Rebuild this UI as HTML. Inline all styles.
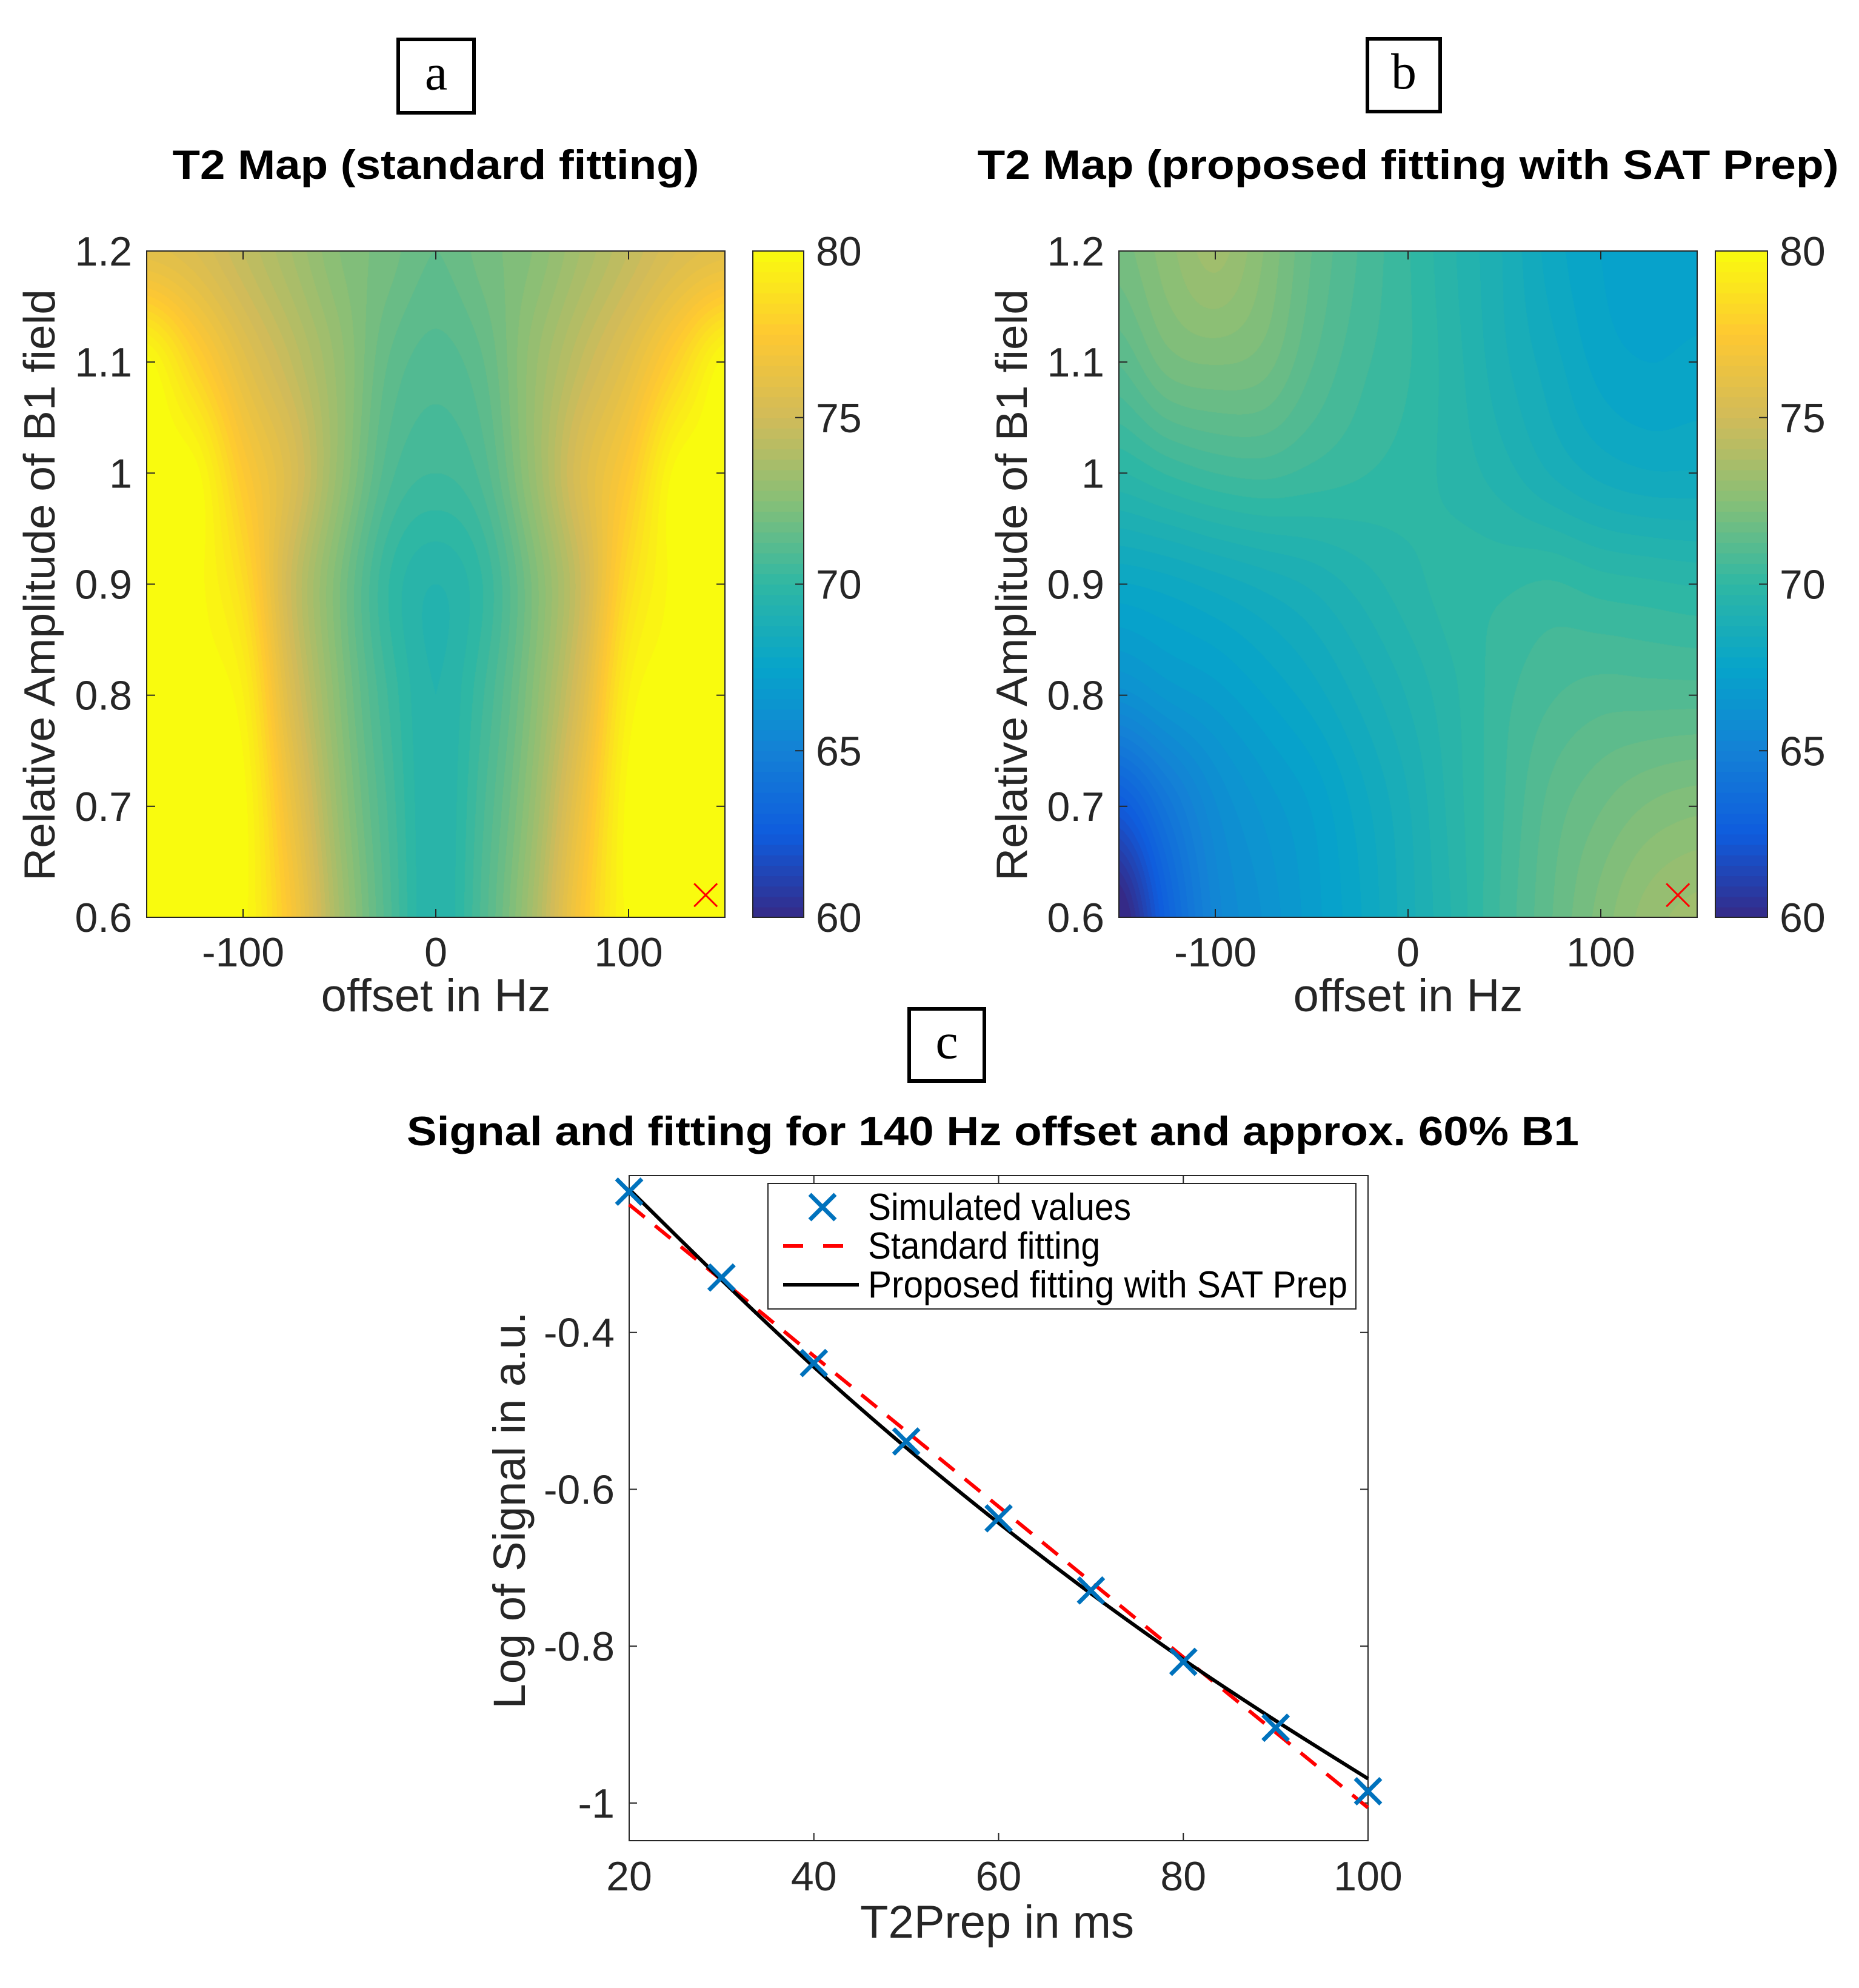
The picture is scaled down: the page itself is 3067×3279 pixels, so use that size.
<!DOCTYPE html>
<html><head><meta charset="utf-8"><style>
html,body{margin:0;padding:0;background:#fff;}
#wrap{position:relative;width:3067px;height:3279px;overflow:hidden;background:#fff;}
canvas{position:absolute;}
svg{position:absolute;left:0;top:0;}
text{font-family:"Liberation Sans",sans-serif;}
</style></head><body>
<div id="wrap">
<canvas id="mapA" style="left:242px;top:414px" width="954" height="1099"></canvas>
<canvas id="mapB" style="left:1846px;top:414px" width="954" height="1099"></canvas>
<svg id="svg" width="3067" height="3279" xmlns="http://www.w3.org/2000/svg"></svg>
</div>
<script>
// ---- data ----
const mapOffsets = [-150,-125,-100,-75,-50,-25,0,25,50,75,100,125,150];
const mapB1 = [1.2,1.1,1.0,0.9,0.8,0.7,0.6];
const mapA_r12 = [76,75.5,74.5,73.5,72.5,72,71.5,72,72.5,73.5,74.5,75.5,76];
const mapA_r11 = [80,78,76,74.5,73,71.5,71,71.5,73,74.5,76,78,80];
const mapA_r10 = [80,80,77.5,75.5,73,71,70.5,71,73,75.5,77.5,80,80];
const mapA_r09 = [80,80,78.5,74.8,72.2,70.2,69.5,70.2,72.2,74.8,78.5,80,80];
const mapA_r08 = [80,80,79.5,75.5,72.5,70.5,69.5,70.5,72.5,75.5,79.5,80,80];
const mapA_r07 = [80,80,80,76.5,73,70.8,69.5,70.8,73,76.5,80,80,80];
const mapA_r06 = [80,80,80,77.2,73.5,71,69.5,71,73.5,77.2,80,80,80];
const mapB_r12 = [72,72.7,73.3,72.5,71.5,70.8,70.2,69.5,68.8,68,67.5,67.3,67.3];
const mapB_r11 = [71.2,72,72.2,72,71.2,70.6,70.2,69.6,68.9,68.3,67.7,67.5,67.6];
const mapB_r10 = [69.8,70.2,70.5,70.6,70.4,70.2,70,69.7,69.3,68.8,68.4,68.2,68.2];
const mapB_r09 = [67.8,68,68.3,68.6,68.9,69.3,69.7,70,70.1,70.2,70,69.9,69.8];
const mapB_r08 = [66,66.6,67,67.5,68,68.6,69.2,69.8,70.4,70.8,71,71,71];
const mapB_r07 = [62.5,64.3,65.8,66.6,67.2,68,68.8,69.7,70.5,71.3,71.8,72.2,72.4];
const mapB_r06 = [59.5,63,65.3,66.2,67,67.8,68.7,69.6,70.6,71.5,72.3,73,73.3];
const mapXTicks = [-100,0,100];
const mapYTicks = [0.6,0.7,0.8,0.9,1.0,1.1,1.2];
const mapYTickLabels = ["0.6","0.7","0.8","0.9","1","1.1","1.2"];
const cbTicks = [60,65,70,75,80];
const markerOffset = 140, markerB1 = 0.62;

const t2prep = [20,30,40,50,60,70,80,90,100];
const simulated = [-0.2205,-0.330,-0.439,-0.539,-0.637,-0.729,-0.820,-0.904,-0.985];
const standardFit = [-0.237,-0.333,-0.430,-0.526,-0.622,-0.718,-0.814,-0.910,-1.006];
const proposedFit = [-0.2174,-0.333,-0.444,-0.547,-0.643,-0.733,-0.817,-0.895,-0.969];
const cXTicks = [20,40,60,80,100];
const cYTicks = [-1,-0.8,-0.6,-0.4];
const cYTickLabels = ["-1","-0.8","-0.6","-0.4"];

// ---- parula ----
const parula = [[0,[53,42,135]],[0.125,[15,92,221]],[0.25,[20,129,214]],[0.375,[6,164,202]],[0.5,[46,183,164]],[0.625,[135,191,119]],[0.75,[209,187,89]],[0.875,[254,200,50]],[1,[249,251,14]]];
function cmap(t){t=Math.max(0,Math.min(1,t));for(let i=1;i<parula.length;i++){if(t<=parula[i][0]){const a=parula[i-1],b=parula[i];const f=(t-a[0])/(b[0]-a[0]);return [0,1,2].map(k=>Math.round(a[1][k]+(b[1][k]-a[1][k])*f));}}return parula[parula.length-1][1];}

function cr(p0,p1,p2,p3,t){return 0.5*((2*p1)+(-p0+p2)*t+(2*p0-5*p1+4*p2-p3)*t*t+(-p0+3*p1-3*p2+p3)*t*t*t);}
function drawMap(id,rows){
  const c=document.getElementById(id),ctx=c.getContext('2d'),W=c.width,H=c.height;
  const img=ctx.createImageData(W,H);
  const nx=mapOffsets.length,ny=mapB1.length;
  const g=(j,i)=>rows[Math.max(0,Math.min(ny-1,j))][Math.max(0,Math.min(nx-1,i))];
  for(let y=0;y<H;y++){
    const fy=(ny-1)*y/(H-1); const j=Math.min(ny-2,Math.floor(fy)); const ty=fy-j;
    for(let x=0;x<W;x++){
      const fx=(nx-1)*x/(W-1); const i=Math.min(nx-2,Math.floor(fx)); const tx=fx-i;
      const r=[-1,0,1,2].map(dj=>cr(g(j+dj,i-1),g(j+dj,i),g(j+dj,i+1),g(j+dj,i+2),tx));
      let v=cr(r[0],r[1],r[2],r[3],ty);
      v=Math.round(v*3)/3;
      const col=cmap((v-60)/20);
      const p=(y*W+x)*4;img.data[p]=col[0];img.data[p+1]=col[1];img.data[p+2]=col[2];img.data[p+3]=255;
    }
  }
  ctx.putImageData(img,0,0);
}
drawMap('mapA',[mapA_r12,mapA_r11,mapA_r10,mapA_r09,mapA_r08,mapA_r07,mapA_r06]);
drawMap('mapB',[mapB_r12,mapB_r11,mapB_r10,mapB_r09,mapB_r08,mapB_r07,mapB_r06]);

// ---- svg ----
const NS='http://www.w3.org/2000/svg';
const svg=document.getElementById('svg');
function el(tag,attrs,txt,parent){const e=document.createElementNS(NS,tag);for(const k in attrs)e.setAttribute(k,attrs[k]);if(txt!==undefined)e.textContent=txt;(parent||svg).appendChild(e);return e;}

function panelBox(x,y,w,h,letter,name){
  const g=el('g',{});
  
  
  el('rect',{x:x,y:y,width:w,height:h,fill:'#fff',stroke:'#000','stroke-width':6},undefined,g);
  el('text',{x:x+w/2,y:y+h/2+22,'text-anchor':'middle','font-size':84,style:'font-family:"Liberation Serif",serif'},letter,g);
}
panelBox(657,65,125,121,'a','panel-label-a');
panelBox(2256,64,120,120,'b','panel-label-b');
panelBox(1500,1664,124,119,'c','panel-label-c');

function mapPanel(L,cbL,cbR,title,titleW,prefix){
  const T=414,B=1513,R=L+954;
  const sx=v=>L+(v+150)/300*(R-L), sy=v=>B-(v-0.6)/0.6*(B-T);
  const t=el('text',{x:(L+R)/2,y:295,'text-anchor':'middle','font-size':68,'font-weight':'bold',textLength:titleW,lengthAdjust:'spacingAndGlyphs'},title);
  
  
  const ax=el('g',{});
  
  
  el('rect',{x:L,y:T,width:R-L,height:B-T,fill:'none',stroke:'#262626','stroke-width':2},undefined,ax);
  mapXTicks.forEach(v=>{const x=sx(v);
    el('line',{x1:x,y1:B,x2:x,y2:B-14,stroke:'#262626','stroke-width':2},undefined,ax);
    el('line',{x1:x,y1:T,x2:x,y2:T+14,stroke:'#262626','stroke-width':2},undefined,ax);
    const lb=el('text',{x:x,y:1594,'text-anchor':'middle','font-size':68,fill:'#262626'},String(v),ax);
    
    
  });
  mapYTicks.forEach((v,k)=>{const y=sy(v);
    el('line',{x1:L,y1:y,x2:L+14,y2:y,stroke:'#262626','stroke-width':2},undefined,ax);
    el('line',{x1:R,y1:y,x2:R-14,y2:y,stroke:'#262626','stroke-width':2},undefined,ax);
    const lb=el('text',{x:L-24,y:y+24,'text-anchor':'end','font-size':68,fill:'#262626'},mapYTickLabels[k],ax);
    
    
  });
  const xl=el('text',{x:(L+R)/2,y:1668,'text-anchor':'middle','font-size':76,fill:'#262626'},'offset in Hz');
  
  
  const yl=el('text',{x:0,y:0,'text-anchor':'middle','font-size':72,fill:'#262626',textLength:976,lengthAdjust:'spacingAndGlyphs',transform:`translate(${L-152},965) rotate(-90)`},'Relative Amplitude of B1 field');
  
  
  const mx=sx(markerOffset),my=sy(markerB1);
  const mk=el('path',{d:`M${mx-19},${my-19}L${mx+19},${my+19}M${mx-19},${my+19}L${mx+19},${my-19}`,stroke:'#ff0000','stroke-width':3,fill:'none'});
  
  
  const cb=el('g',{});
  
  
  const n=64;
  for(let i=0;i<n;i++){const c=cmap((i+0.5)/n);const y0=B-(i+1)*(B-T)/n;
    el('rect',{x:cbL,y:y0,width:cbR-cbL,height:(B-T)/n+0.8,fill:`rgb(${c[0]},${c[1]},${c[2]})`},undefined,cb);}
  el('rect',{x:cbL,y:T,width:cbR-cbL,height:B-T,fill:'none',stroke:'#262626','stroke-width':2},undefined,cb);
  cbTicks.forEach(v=>{const y=B-(v-60)/20*(B-T);
    el('line',{x1:cbR,y1:y,x2:cbR-14,y2:y,stroke:'#262626','stroke-width':2},undefined,cb);
    const lb=el('text',{x:cbR+20,y:y+24,'font-size':68,fill:'#262626'},String(v),cb);
    
    
  });
}
mapPanel(242,1242,1326,'T2 Map (standard fitting)',869,'map-a');
mapPanel(1846,2830,2916,'T2 Map (proposed fitting with SAT Prep)',1421,'map-b');

// ---- panel c ----
(function(){
  const L=1038,R=2257,T=1939,B=3036;
  const yMin=-1.048,yMax=-0.2;
  const sx=v=>L+(v-20)/80*(R-L), sy=v=>B-(v-yMin)/(yMax-yMin)*(B-T);
  const t=el('text',{x:1638,y:1889,'text-anchor':'middle','font-size':68,'font-weight':'bold',textLength:1934,lengthAdjust:'spacingAndGlyphs'},'Signal and fitting for 140 Hz offset and approx. 60% B1');
  
  
  const ax=el('g',{});
  
  
  el('rect',{x:L,y:T,width:R-L,height:B-T,fill:'#fff',stroke:'#262626','stroke-width':2},undefined,ax);
  cXTicks.forEach(v=>{const x=sx(v);
    el('line',{x1:x,y1:B,x2:x,y2:B-13,stroke:'#262626','stroke-width':2},undefined,ax);
    el('line',{x1:x,y1:T,x2:x,y2:T+13,stroke:'#262626','stroke-width':2},undefined,ax);
    const lb=el('text',{x:x,y:3118,'text-anchor':'middle','font-size':68,fill:'#262626'},String(v),ax);
    
    
  });
  cYTicks.forEach((v,k)=>{const y=sy(v);
    el('line',{x1:L,y1:y,x2:L+13,y2:y,stroke:'#262626','stroke-width':2},undefined,ax);
    el('line',{x1:R,y1:y,x2:R-13,y2:y,stroke:'#262626','stroke-width':2},undefined,ax);
    const lb=el('text',{x:1014,y:y+24,'text-anchor':'end','font-size':68,fill:'#262626'},cYTickLabels[k],ax);
    
    
  });
  const xl=el('text',{x:1645,y:3196,'text-anchor':'middle','font-size':76,fill:'#262626'},'T2Prep in ms');
  
  
  const yl=el('text',{x:0,y:0,'text-anchor':'middle','font-size':74,fill:'#262626',textLength:655,lengthAdjust:'spacingAndGlyphs',transform:'translate(866,2491) rotate(-90)'},'Log of Signal in a.u.');
  
  
  const sf=el('polyline',{points:t2prep.map((x,i)=>sx(x)+','+sy(standardFit[i])).join(' '),fill:'none',stroke:'#ff0000','stroke-width':6,'stroke-dasharray':'33 22'});
  
  
  const pts=t2prep.map((x,i)=>[sx(x),sy(proposedFit[i])]);
  let d='M'+pts[0][0]+','+pts[0][1];
  for(let i=0;i<pts.length-1;i++){const p0=pts[Math.max(0,i-1)],p1=pts[i],p2=pts[i+1],p3=pts[Math.min(pts.length-1,i+2)];
    d+=`C${p1[0]+(p2[0]-p0[0])/6},${p1[1]+(p2[1]-p0[1])/6} ${p2[0]-(p3[0]-p1[0])/6},${p2[1]-(p3[1]-p1[1])/6} ${p2[0]},${p2[1]}`;}
  const pf=el('path',{d:d,fill:'none',stroke:'#000','stroke-width':6});
  
  
  t2prep.forEach((x,i)=>{const cx=sx(x),cy=sy(simulated[i]);
    const m=el('path',{d:`M${cx-21},${cy-21}L${cx+21},${cy+21}M${cx-21},${cy+21}L${cx+21},${cy-21}`,stroke:'#0072bd','stroke-width':7,fill:'none'});
    
    
  });
  const lg=el('g',{});
  
  
  el('rect',{x:1267,y:1952,width:970,height:207,fill:'#fff',stroke:'#262626','stroke-width':2},undefined,lg);
  const ys=[1991,2055,2119];
  el('path',{d:`M1336,${ys[0]-21}L1378,${ys[0]+21}M1336,${ys[0]+21}L1378,${ys[0]-21}`,stroke:'#0072bd','stroke-width':7},undefined,lg);
  el('line',{x1:1292,y1:ys[1],x2:1417,y2:ys[1],stroke:'#ff0000','stroke-width':6,'stroke-dasharray':'33 33'},undefined,lg);
  el('line',{x1:1292,y1:ys[2],x2:1417,y2:ys[2],stroke:'#000','stroke-width':6},undefined,lg);
  const labels=['Simulated values','Standard fitting','Proposed fitting with SAT Prep'];
  const widths=[434,383,791];
  labels.forEach((s,k)=>{const tx=el('text',{x:1432,y:ys[k]+21,'font-size':62,fill:'#000',textLength:widths[k],lengthAdjust:'spacingAndGlyphs'},s,lg);
    
    
  });
})();
</script>
</body></html>
